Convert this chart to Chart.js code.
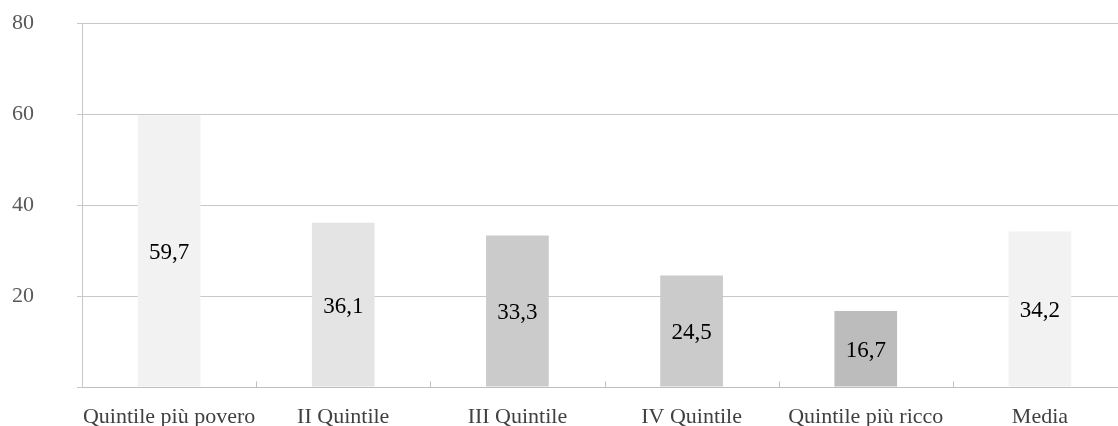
<!DOCTYPE html>
<html lang="it">
<head>
<meta charset="utf-8">
<title>Quintili</title>
<script src="https://cdn.jsdelivr.net/npm/chart.js@4.4.1/dist/chart.umd.min.js"></script>
<style>
  html, body { margin: 0; padding: 0; overflow: hidden; background: #ffffff; }
  #wrap { width: 1127px; height: 426px; position: relative; }
</style>
</head>
<body>
<div id="wrap"><canvas id="chart"></canvas></div>
<script>
// Categorie e valori
const categories = ['Quintile più povero', 'II Quintile', 'III Quintile', 'IV Quintile', 'Quintile più ricco', 'Media'];
const values = [59.7, 36.1, 33.3, 24.5, 16.7, 34.2];
const barColors = ['#f2f2f2', '#e4e4e4', '#cbcbcb', '#cbcbcb', '#bcbcbc', '#f2f2f2'];
const yTicks = [0, 20, 40, 60, 80];

const FONT = '"Liberation Serif", "Times New Roman", serif';

// Etichette dei valori al centro di ogni barra
const valueLabels = {
  id: 'valueLabels',
  afterDraw(chart) {
    const ctx = chart.ctx;
    const meta = chart.getDatasetMeta(0);
    ctx.save();
    ctx.font = '23px ' + FONT;
    ctx.fillStyle = '#000000';
    ctx.textAlign = 'center';
    ctx.textBaseline = 'middle';
    meta.data.forEach((bar, i) => {
      const { x, y, base } = bar.getProps(['x', 'y', 'base'], true);
      const txt = values[i].toFixed(1).replace('.', ',');
      ctx.fillText(txt, x, (y + base) / 2 + 2);
    });
    ctx.restore();
  }
};

// Piccole tacche sull'asse orizzontale tra una categoria e l'altra
const categoryTicks = {
  id: 'categoryTicks',
  afterDatasetsDraw(chart) {
    const xs = chart.scales.x;
    const ys = chart.scales.y;
    const ctx = chart.ctx;
    const base = Math.round(ys.getPixelForValue(0)) + 0.5;
    ctx.save();
    ctx.strokeStyle = '#bfbfbf';
    ctx.lineWidth = 1;
    for (let i = 1; i < categories.length; i++) {
      const px = Math.round((xs.getPixelForValue(i - 1) + xs.getPixelForValue(i)) / 2) + 0.5;
      ctx.beginPath();
      ctx.moveTo(px, base);
      ctx.lineTo(px, base - 6);
      ctx.stroke();
    }
    ctx.restore();
  }
};

new Chart(document.getElementById('chart'), {
  type: 'bar',
  data: {
    labels: categories,
    datasets: [{
      data: values,
      backgroundColor: barColors,
      borderWidth: 0,
      barPercentage: 0.36,
      categoryPercentage: 1.0
    }]
  },
  options: {
    responsive: true,
    maintainAspectRatio: false,
    animation: false,
    events: [],
    layout: { padding: { left: 12, right: 0, top: 23, bottom: 0 } },
    plugins: {
      legend: { display: false },
      tooltip: { enabled: false }
    },
    scales: {
      x: {
        grid: { display: false },
        border: { display: true, color: '#bfbfbf', width: 1 },
        ticks: {
          color: '#404040',
          font: { family: FONT, size: 22 },
          padding: 9,
          maxRotation: 0,
          autoSkip: false
        },
        afterFit(scale) { scale.height = 39; }
      },
      y: {
        min: yTicks[0],
        max: yTicks[yTicks.length - 1],
        z: 1,
        afterBuildTicks(scale) {
          scale.ticks = yTicks.map(v => ({ value: v }));
        },
        afterFit(scale) { scale.width = 70; },
        grid: {
          color: '#c8c8c8',
          lineWidth: 1,
          drawTicks: true,
          tickLength: 5
        },
        border: { display: true, color: '#c8c8c8', width: 1 },
        ticks: {
          color: '#595959',
          font: { family: FONT, size: 22 },
          padding: 0,
          crossAlign: 'far',
          callback: (v) => (v === 0 ? '' : String(v))
        }
      }
    }
  },
  plugins: [valueLabels, categoryTicks]
});
</script>
</body>
</html>
